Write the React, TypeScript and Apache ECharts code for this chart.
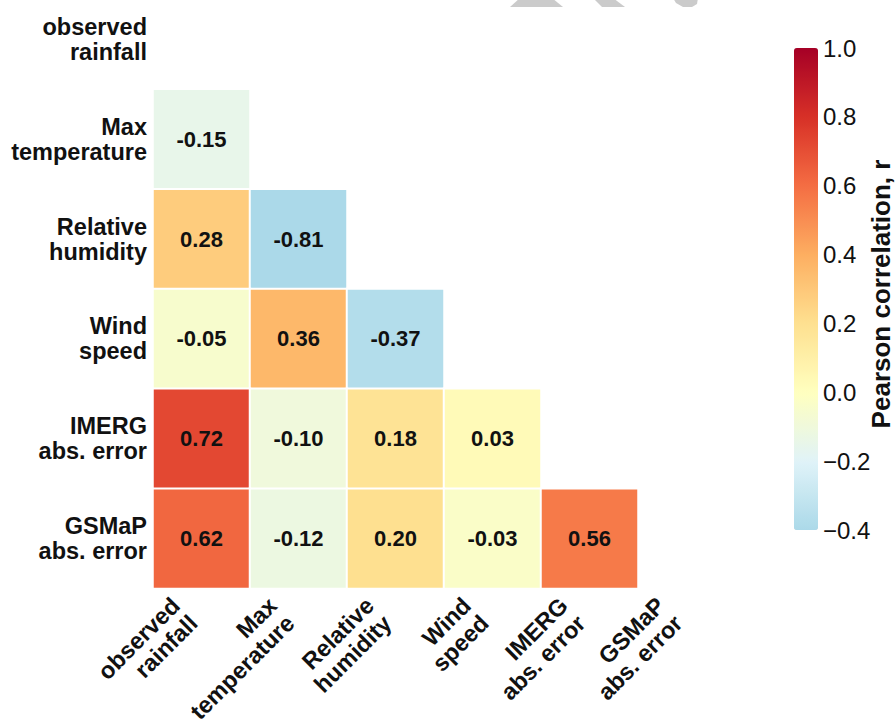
import React, { useEffect, useRef } from "react";
import * as echarts from "echarts";

// Variables of the correlation matrix (top-to-bottom rows, left-to-right columns)
const variables: string[] = [
  "observed\nrainfall",
  "Max\ntemperature",
  "Relative\nhumidity",
  "Wind\nspeed",
  "IMERG\nabs. error",
  "GSMaP\nabs. error",
];

// Lower triangle of the Pearson correlation matrix, one array per row (row i has i entries)
const rowMaxTemperature: number[] = [-0.15];
const rowRelativeHumidity: number[] = [0.28, -0.81];
const rowWindSpeed: number[] = [-0.05, 0.36, -0.37];
const rowImergError: number[] = [0.72, -0.1, 0.18, 0.03];
const rowGsmapError: number[] = [0.62, -0.12, 0.2, -0.03, 0.56];

const lowerRows: number[][] = [
  [],
  rowMaxTemperature,
  rowRelativeHumidity,
  rowWindSpeed,
  rowImergError,
  rowGsmapError,
];

// Colour bar range and ticks
const colorMin = -0.4;
const colorMax = 1.0;
const colorTickStep = 0.2;
// RdYlBu_r sampled from -0.4 to 1.0 (steps of 0.2)
const colorStops: string[] = [
  "#abd9e9",
  "#e0f3f8",
  "#ffffbf",
  "#fee090",
  "#fdae61",
  "#f46d43",
  "#d73027",
  "#a50026",
];

const FONT = "'Liberation Sans', Arial, Helvetica, sans-serif";
const TEXT = "#111111";
// The canvas starts above the page so the top row can be partly clipped
const OFFSET = 20;

export default function App() {
  const ref = useRef<HTMLDivElement>(null);

  useEffect(() => {
    if (!ref.current) return;
    const chart = echarts.init(ref.current, undefined, { renderer: "svg" });

    const cells: [number, number, number][] = [];
    lowerRows.forEach((row, yi) => {
      row.forEach((v, xi) => cells.push([xi, yi, v]));
    });

    const fmtTick = (v: number) =>
      v < 0 ? "\u2212" + Math.abs(v).toFixed(1) : v.toFixed(1);

    const poly = (pts: number[][]) => ({
      type: "polygon",
      shape: { points: pts.map(([x, y]) => [x, y + OFFSET]) },
      style: { fill: "#cbcbcb" },
    });

    chart.setOption({
      animation: false,
      backgroundColor: "#ffffff",
      textStyle: { fontFamily: FONT },
      grid: [
        {
          left: 153,
          top: OFFSET - 10.5,
          width: 582,
          height: 599,
          containLabel: false,
          outerBoundsMode: "none",
        },
        {
          left: 794,
          top: OFFSET + 48,
          width: 24,
          height: 482,
          containLabel: false,
          outerBoundsMode: "none",
        },
      ],
      xAxis: [
        {
          type: "category",
          gridIndex: 0,
          data: variables,
          axisLine: { show: false },
          axisTick: { show: false },
          splitLine: { show: false },
          axisLabel: {
            rotate: 45,
            interval: 0,
            margin: 5,
            padding: [0, 24, 0, 0],
            fontFamily: FONT,
            fontSize: 23.5,
            fontWeight: "bold",
            lineHeight: 25,
            color: TEXT,
            align: "right",
          },
        },
        { type: "value", gridIndex: 1, show: false, min: 0, max: 1 },
      ],
      yAxis: [
        {
          type: "category",
          gridIndex: 0,
          data: variables,
          inverse: true,
          axisLine: { show: false },
          axisTick: { show: false },
          splitLine: { show: false },
          axisLabel: {
            interval: 0,
            margin: 6,
            fontFamily: FONT,
            fontSize: 23.5,
            fontWeight: "bold",
            lineHeight: 25,
            color: TEXT,
            align: "right",
          },
        },
        {
          type: "value",
          gridIndex: 1,
          position: "right",
          min: colorMin,
          max: colorMax,
          interval: colorTickStep,
          axisLine: { show: false },
          axisTick: { show: false },
          splitLine: { show: false },
          axisLabel: {
            margin: 5,
            fontFamily: FONT,
            fontSize: 24,
            color: TEXT,
            formatter: fmtTick,
          },
        },
      ],
      visualMap: {
        type: "continuous",
        seriesIndex: 0,
        min: colorMin,
        max: colorMax,
        left: 794,
        top: OFFSET + 48,
        itemWidth: 24,
        itemHeight: 482,
        padding: 0,
        calculable: false,
        showLabel: false,
        text: ["", ""],
        inRange: { color: colorStops },
      },
      series: [
        {
          type: "heatmap",
          xAxisIndex: 0,
          yAxisIndex: 0,
          data: cells,
          itemStyle: { borderColor: "#ffffff", borderWidth: 2 },
          label: {
            show: true,
            fontFamily: FONT,
            fontSize: 22,
            fontWeight: "bold",
            color: TEXT,
            formatter: (p: any) => (p.value[2] as number).toFixed(2),
          },
          emphasis: { disabled: true },
        },
      ],
      graphic: [
        {
          type: "text",
          rotation: Math.PI / 2,
          x: 881,
          y: OFFSET + 294,
          style: {
            text: "Pearson correlation, r",
            fontFamily: FONT,
            fontSize: 26,
            fontWeight: "bold",
            fill: TEXT,
            align: "center",
            verticalAlign: "middle",
          },
        },
        poly([[520, -2], [552, -2], [563, 7], [510, 7]]),
        poly([[593, -2], [613, -2], [625, 7], [602, 7]]),
        poly([[673, -2], [698, -2], [697, 4], [692, 7], [683, 7], [676, 3]]),
      ],
    });

    return () => chart.dispose();
  }, []);

  return (
    <div
      ref={ref}
      style={{ position: "absolute", left: 0, top: -OFFSET, width: 895, height: 719 + OFFSET }}
    />
  );
}
